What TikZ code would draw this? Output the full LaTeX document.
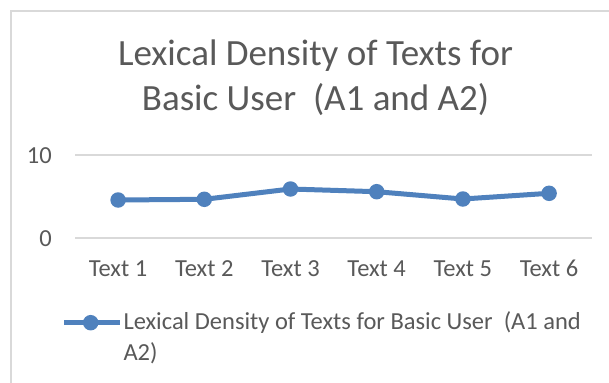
\documentclass[tikz,border=0pt]{standalone}
\usepackage{fontspec}
\setmainfont{Carlito}
\definecolor{txt}{HTML}{595959}
\definecolor{grid}{HTML}{D9D9D9}
\definecolor{ser}{HTML}{4F81BD}
\begin{document}
\begin{tikzpicture}[x=1pt,y=-1pt,
  lbl/.style={text=txt,font=\fontsize{24.5}{29}\selectfont,inner sep=0pt},
  gridline/.style={draw=grid,line width=1.8pt},
  serline/.style={draw=ser,line width=5pt,line join=round},
  mk/.style={circle,fill=ser,minimum size=15.5pt,inner sep=0pt}]
\useasboundingbox (0,0) rectangle (609,382);
\fill[white] (0,0) rectangle (609,382);
\draw[grid,line width=1.5pt] (11,390) -- (11,11) -- (620,11);
% title
\node[text=txt,font=\fontsize{37}{45}\selectfont,anchor=base,inner sep=0pt] (title1) at (315.5,66)
  {Lexical Density of Texts for};
\node[text=txt,font=\fontsize{37}{45}\selectfont,anchor=base,inner sep=0pt] (title2) at (315.5,111)
  {Basic User~~(A1 and A2)};
% gridlines
\coordinate (g10l) at (75,155); \coordinate (g10r) at (592,155);
\coordinate (g0l) at (75,238.3); \coordinate (g0r) at (592,238.3);
\draw[gridline] (g10l) -- (g10r);
\draw[gridline] (g0l) -- (g0r);
\node[lbl,anchor=base east] (y10) at (52,163.5) {10};
\node[lbl,anchor=base east] (y0) at (52,246.8) {0};
% data
\foreach \i/\x/\y in {1/118.1/200,2/204.3/199.3,3/290.5/189,4/376.7/191.7,5/462.9/199,6/549.1/193.3}{
  \coordinate (c\i) at (\x,\y);
  \node[lbl,anchor=base] (t\i) at (\x,276) {Text \i};
}
\draw[serline] (c1) -- (c2) -- (c3) -- (c4) -- (c5) -- (c6);
\foreach \i in {1,...,6}{ \node[mk] (p\i) at (c\i) {}; }
% legend
\coordinate (la) at (64,322.7); \coordinate (lb) at (120,322.7);
\draw[serline] (la) -- (lb);
\node[mk] (lm) at (90.7,322.7) {};
\node[lbl,anchor=base west] (leg1) at (123.3,329)
  {Lexical Density of Texts for Basic User~~(A1 and};
\node[lbl,anchor=base west] (leg2) at (123.3,360)
  {A2)};
\end{tikzpicture}
\end{document}
